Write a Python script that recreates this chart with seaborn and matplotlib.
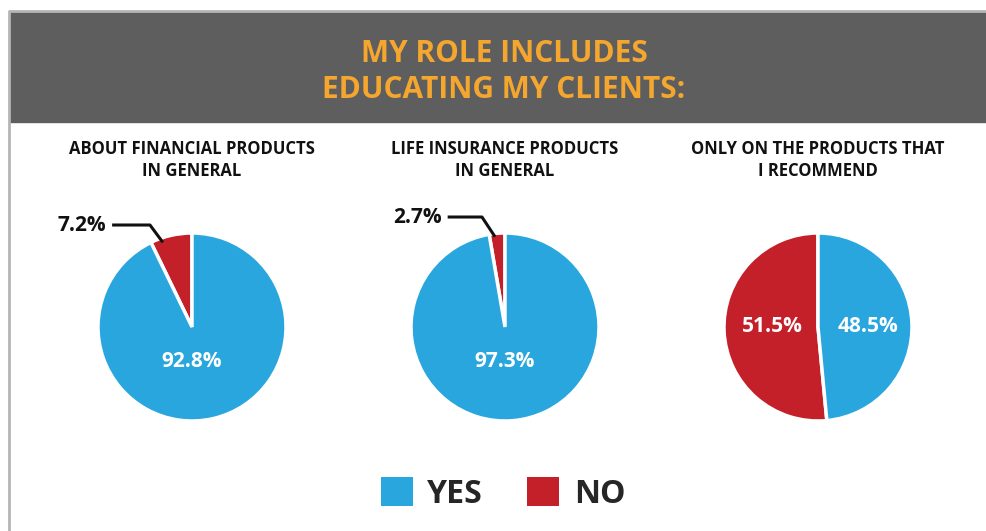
import matplotlib
matplotlib.use("Agg")
import matplotlib.pyplot as plt
from matplotlib.patches import Rectangle, Patch
from matplotlib.lines import Line2D
import seaborn as sns

# Survey answers per question: share answering NO / YES (percent)
questions = [
    "ABOUT FINANCIAL PRODUCTS\nIN GENERAL",
    "LIFE INSURANCE PRODUCTS\nIN GENERAL",
    "ONLY ON THE PRODUCTS THAT\nI RECOMMEND",
]
no_share = [7.2, 2.7, 51.5]
yes_share = [92.8, 97.3, 48.5]
answers = ["YES", "NO"]
title_text = "MY ROLE INCLUDES\nEDUCATING MY CLIENTS:"

sns.set_theme(style="white")
FONT = ["Open Sans", "DejaVu Sans"]
plt.rcParams["font.family"] = FONT

BLUE = "#2AA6DF"
RED = "#C4202A"
HEADER = "#5E5E5E"
ORANGE = "#F4A62E"

W, H = 986, 531
fig = plt.figure(figsize=(W / 100, H / 100), dpi=100)
fig.patch.set_facecolor("white")


def fx(px):
    return px / W


def fy(py):
    return 1 - py / H


# header band and outer frame
fig.add_artist(Rectangle((fx(10), fy(122)), fx(976), (110) / H,
                         transform=fig.transFigure, color=HEADER, zorder=0))
fig.add_artist(Line2D([fx(9), fx(9), 1], [0, fy(11), fy(11)],
                      transform=fig.transFigure, color="#B5B5B5", lw=2))
fig.text(fx(504), fy(72), title_text, ha="center", va="center",
         color=ORANGE, fontsize=21.5, fontweight="bold", linespacing=1.22)

centers = [(192, 327), (505, 327), (818, 327)]
radius_px = 94
box = 300
lim = box / 2 / radius_px

for i, (cx, cy) in enumerate(centers):
    ax = fig.add_axes([fx(cx - box / 2), fy(cy + box / 2), fx(box), box / H])
    vals = [no_share[i], yes_share[i]]
    wedges, _ = ax.pie(vals, colors=[RED, BLUE], startangle=90, counterclock=True,
                       wedgeprops=dict(edgecolor="white", linewidth=2.5))
    ax.set_xlim(-lim, lim)
    ax.set_ylim(-lim, lim)
    ax.set_aspect("equal")
    ax.axis("off")

    fig.text(fx(cx), fy(160), questions[i], ha="center", va="center",
             fontsize=12, fontweight="bold", color="#111111", linespacing=1.25)

    if i < 2:
        # large YES share inside, small NO share called out with leader line
        ax.text(0, -0.37, f"{yes_share[i]}%", ha="center", va="center",
                color="white", fontsize=15, fontweight="bold")
        if i == 0:
            txt_x, y0, elbow_x, end = -0.91, 1.085, -0.447, (-0.31, 0.90)
        else:
            txt_x, y0, elbow_x, end = -0.67, 1.17, -0.245, (-0.106, 0.96)
        ax.plot([txt_x + 0.06, elbow_x, end[0]], [y0, y0, end[1]],
                color="#111111", lw=2.2, solid_capstyle="butt", clip_on=False)
        ax.text(txt_x, y0, f"{no_share[i]}%", ha="right", va="center",
                color="#111111", fontsize=15, fontweight="bold")
    else:
        ax.text(-0.49, 0, f"{no_share[i]}%", ha="center", va="center",
                color="white", fontsize=15, fontweight="bold")
        ax.text(0.53, 0, f"{yes_share[i]}%", ha="center", va="center",
                color="white", fontsize=15, fontweight="bold")

handles = [Patch(facecolor=BLUE, edgecolor="none"), Patch(facecolor=RED, edgecolor="none")]
fig.legend(handles, answers, loc="center", bbox_to_anchor=(fx(503), fy(494)),
           ncol=2, frameon=False, handlelength=1.0, handleheight=1.0,
           handletextpad=0.45, columnspacing=1.4,
           prop=dict(weight="bold", size=23))

fig.savefig("out.png", dpi=100, facecolor="white")
